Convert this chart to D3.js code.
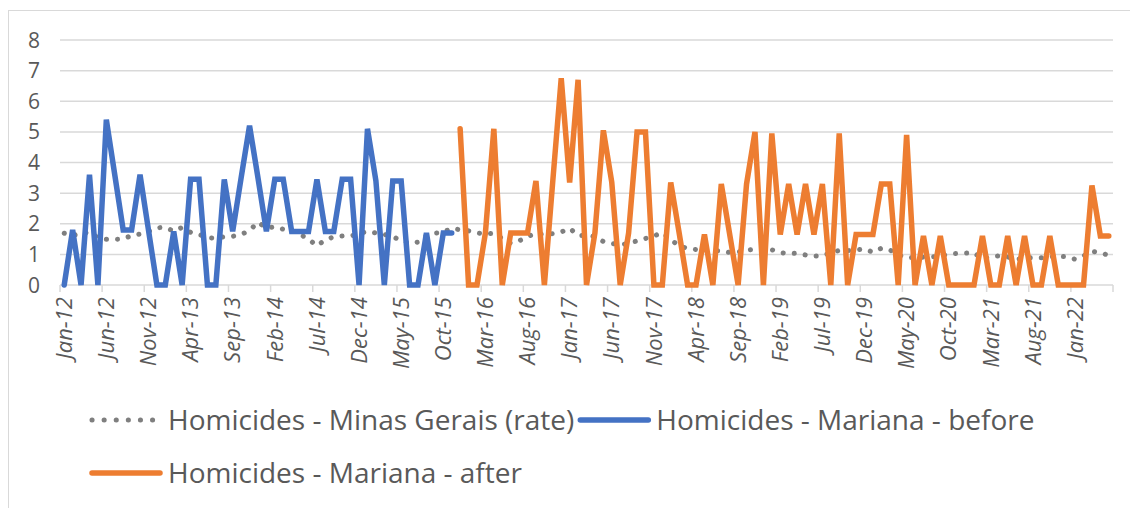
<!DOCTYPE html>
<meta charset="utf-8">
<style>
body { margin: 0; background: #fff; }
text { font-family: "Open Sans", sans-serif; fill: #595959; }
</style>
<body>
<script src="https://cdn.jsdelivr.net/npm/d3@7/dist/d3.min.js"></script>
<script>

// x labels, one every 5 months (Jan-12 .. May-22 is 125 months)
var tickLabels = ["Jan-12","Jun-12","Nov-12","Apr-13","Sep-13","Feb-14","Jul-14","Dec-14","May-15","Oct-15",
  "Mar-16","Aug-16","Jan-17","Jun-17","Nov-17","Apr-18","Sep-18","Feb-19","Jul-19","Dec-19",
  "May-20","Oct-20","Mar-21","Aug-21","Jan-22"];
var nMonths = 125;
var yTicks = [0,1,2,3,4,5,6,7,8];

// Minas Gerais homicide rate, monthly
var minasGerais = [
  1.69,1.62,1.68,1.72,1.55,1.49,1.49,1.50,1.62,1.66,1.75,1.87,1.88,1.76,1.88,1.72,1.65,1.55,1.52,1.58,
  1.59,1.65,1.78,2.05,1.86,1.90,1.82,1.78,1.65,1.50,1.28,1.48,1.57,1.60,1.60,1.68,1.75,1.70,1.65,1.58,
  1.45,1.36,1.40,1.62,1.69,1.72,1.86,1.80,1.77,1.70,1.67,1.69,1.52,1.36,1.44,1.58,1.69,1.64,1.68,1.73,
  1.85,1.62,1.62,1.58,1.42,1.36,1.31,1.36,1.44,1.52,1.60,1.71,1.48,1.28,1.19,1.16,1.13,1.12,1.12,1.06,
  1.08,1.13,1.17,1.16,1.15,1.06,1.02,1.04,0.98,0.94,0.96,1.05,1.13,1.12,1.14,1.18,1.07,1.20,1.15,0.98,
  0.89,0.90,0.91,0.92,0.94,1.02,1.03,1.04,1.05,0.85,0.93,0.95,0.92,0.83,0.88,0.89,0.89,0.92,0.94,0.92,
  0.84,0.95,1.10,1.05,0.97];

// Mariana, Jan-12 .. Nov-15
var marianaBefore = [
  0,1.8,0,3.6,0,5.4,3.6,1.8,1.8,3.6,1.8,0,0,1.75,0,3.45,3.45,0,0,3.45,
  1.75,3.5,5.2,3.5,1.75,3.45,3.45,1.75,1.75,1.75,3.45,1.75,1.75,3.45,3.45,0,5.1,3.4,0,3.4,
  3.4,0,0,1.7,0,1.7,1.7];

// Mariana, Dec-15 .. May-22
var marianaAfter = [
  5.1,0,0,1.7,5.1,0,1.7,1.7,1.7,3.4,0,3.4,6.75,3.35,6.7,0,1.7,5.05,3.35,0,
  1.7,5.0,5.0,0,0,3.35,1.7,0,0,1.65,0,3.3,1.65,0,3.3,5.0,0,4.95,1.65,3.3,
  1.65,3.3,1.65,3.3,0,4.95,0,1.65,1.65,1.65,3.3,3.3,0,4.9,0,1.6,0,1.6,0,0,
  0,0,1.6,0,0,1.6,0,1.6,0,0,1.6,0,0,0,0,3.25,1.6,1.6];

var W = 1130, H = 508;
var svg = d3.select('body').append('svg').attr('width', W).attr('height', H);

// outer chart border
svg.append('rect').attr('x', 8.5).attr('y', 10.5).attr('width', W + 20).attr('height', H + 20)
  .attr('fill', 'none').attr('stroke', '#d9d9d9').attr('stroke-width', 1);

var x = d3.scaleBand().domain(d3.range(nMonths)).range([60, 1113]).padding(0);
var y = d3.scaleLinear().domain([0, 8]).range([285, 40]);
function cx(i) { return x(i) + x.bandwidth() / 2; }

// gridlines
svg.append('g').selectAll('line').data(yTicks).enter().append('line')
  .attr('x1', 60).attr('x2', 1113)
  .attr('y1', function (d) { return y(d); }).attr('y2', function (d) { return y(d); })
  .attr('stroke', '#d9d9d9').attr('stroke-width', 1.5);

// y labels
svg.append('g').selectAll('text').data(yTicks).enter().append('text')
  .attr('x', 40).attr('y', function (d) { return y(d); }).attr('dy', '0.36em')
  .attr('text-anchor', 'end').style('font-size', '21px')
  .text(function (d) { return d; });

// x tick marks at category boundaries, every 5 months
var tickIdx = d3.range(0, nMonths + 1, 5);
svg.append('g').selectAll('line').data(tickIdx).enter().append('line')
  .attr('x1', function (d) { return 60 + d * x.step(); })
  .attr('x2', function (d) { return 60 + d * x.step(); })
  .attr('y1', 285).attr('y2', 292)
  .attr('stroke', '#d9d9d9').attr('stroke-width', 1.5);

// x labels
svg.append('g').selectAll('text').data(tickLabels).enter().append('text')
  .attr('transform', function (d, k) { return 'translate(' + cx(k * 5) + ',297) rotate(-90)'; })
  .attr('dy', '0.35em').attr('text-anchor', 'end')
  .style('font-size', '22px').style('font-style', 'italic')
  .text(function (d) { return d; });

var line = d3.line()
  .x(function (d) { return cx(d.i); })
  .y(function (d) { return y(d.v); });

var mgData = minasGerais.map(function (v, i) { return {i: i, v: v}; });
var beforeData = marianaBefore.map(function (v, i) { return {i: i, v: v}; });
var afterData = marianaAfter.map(function (v, i) { return {i: i + marianaBefore.length, v: v}; });

svg.append('path').datum(mgData).attr('d', line)
  .attr('fill', 'none').attr('stroke', '#7f7f7f').attr('stroke-width', 5)
  .attr('stroke-linecap', 'round').attr('stroke-dasharray', '0.1 11');

svg.append('path').datum(beforeData).attr('d', line)
  .attr('fill', 'none').attr('stroke', '#4472c4').attr('stroke-width', 5.5)
  .attr('stroke-linejoin', 'miter').attr('stroke-linecap', 'round');

svg.append('path').datum(afterData).attr('d', line)
  .attr('fill', 'none').attr('stroke', '#ed7d31').attr('stroke-width', 5.5)
  .attr('stroke-linejoin', 'miter').attr('stroke-linecap', 'round');

// legend
var legend = [
  {name: 'Homicides - Minas Gerais (rate)', color: '#7f7f7f', dash: '0.1 12', w: 5, row: 0},
  {name: 'Homicides - Mariana - before', color: '#4472c4', dash: null, w: 5.5, row: 0},
  {name: 'Homicides - Mariana - after', color: '#ed7d31', dash: null, w: 5.5, row: 1}
];
var rowY = [420, 473];
var cursor = [92, 92];
legend.forEach(function (d) {
  var g = svg.append('g');
  var yy = rowY[d.row], x0 = cursor[d.row];
  g.append('line')
    .attr('x1', x0).attr('x2', x0 + 68).attr('y1', yy).attr('y2', yy)
    .attr('stroke', d.color).attr('stroke-width', d.w)
    .attr('stroke-linecap', 'round').attr('stroke-dasharray', d.dash);
  var t = g.append('text')
    .attr('x', x0 + 76).attr('y', yy).attr('dy', '0.35em')
    .style('font-size', '28px').text(d.name);
  cursor[d.row] = x0 + 76 + t.node().getComputedTextLength() + 6;
});

</script>
</body>
